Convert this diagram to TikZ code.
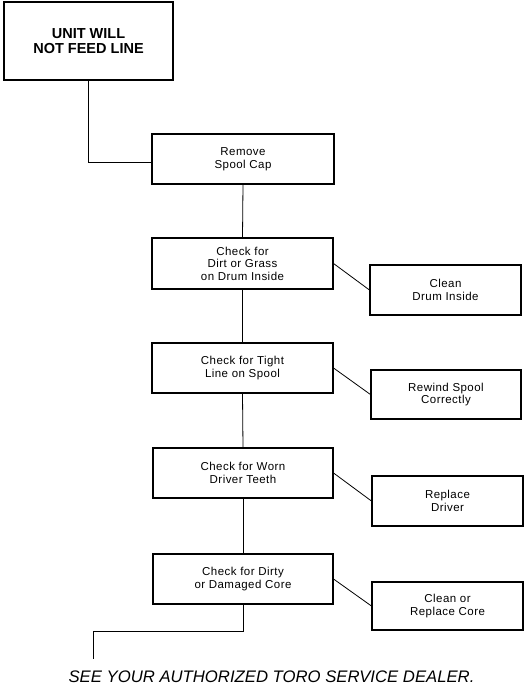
\documentclass[tikz,border=0pt]{standalone}
\usepackage{fontspec}
\setmainfont{Liberation Sans}
\newfontfamily\boxfont[LetterSpace=4]{Liberation Sans}
\begin{document}
\begin{tikzpicture}[x=1pt,y=-1pt,
  stepbox/.style={draw, line width=1.1pt, inner sep=0pt, align=center,
    font=\boxfont\fontsize{11.5}{12.5}\selectfont},
  startbox/.style={draw, line width=1.8pt, inner sep=0pt, align=center,
    font=\bfseries\fontsize{14.5}{15}\selectfont},
  link/.style={line width=0.8pt}]
\useasboundingbox (0,0) rectangle (524,686);
\node[startbox, minimum width=169pt, minimum height=78pt] (start) at (88.5,41) {UNIT WILL\\NOT FEED LINE};
\node[stepbox, minimum width=182pt, minimum height=50pt] (remove) at (243,159) {Remove\\Spool Cap};
\node[stepbox, minimum width=181pt, minimum height=51pt] (dirt) at (242.5,263.5) {Check for\\Dirt or Grass\\on Drum Inside};
\node[stepbox, minimum width=181pt, minimum height=50pt] (tight) at (242.5,368) {Check for Tight\\Line on Spool};
\node[stepbox, minimum width=180pt, minimum height=50pt] (worn) at (243,473) {Check for Worn\\Driver Teeth};
\node[stepbox, minimum width=180pt, minimum height=50pt] (core) at (243,579) {Check for Dirty\\or Damaged Core};
\node[stepbox, minimum width=151pt, minimum height=50pt] (cleandrum) at (445.5,290) {Clean\\Drum Inside};
\node[stepbox, minimum width=150pt, minimum height=49pt] (rewind) at (446,394.5) {Rewind Spool\\Correctly};
\node[stepbox, minimum width=151pt, minimum height=50pt] (driver) at (447.5,501) {Replace\\Driver};
\node[stepbox, minimum width=151pt, minimum height=48pt] (cleancore) at (447.5,606) {Clean or\\Replace Core};
\coordinate (j1) at (88.5,162);
\draw[link] (start.south) -- (j1) -- (j1 -| remove.west);
\draw[link] (remove.south) -- (dirt.north);
\draw[link] (dirt.south) -- (tight.north);
\draw[link] (tight.south) -- (worn.north);
\draw[link] (worn.south) -- (core.north);
\draw[link] (dirt.east) -- (cleandrum.west);
\draw[link] (tight.east) -- (rewind.west);
\draw[link] (worn.east) -- (driver.west);
\draw[link] (core.east) -- (cleancore.west);
\coordinate (j2) at (243,631);
\coordinate (j3) at (93,631);
\coordinate (j4) at (93,659);
\draw[link] (core.south) -- (j2) -- (j3) -- (j4);
\node[anchor=base, inner sep=0pt, font=\itshape\fontsize{16.7}{18}\selectfont] (dealer) at (271.5,682) {SEE YOUR AUTHORIZED TORO SERVICE DEALER.};
\end{tikzpicture}
\end{document}
